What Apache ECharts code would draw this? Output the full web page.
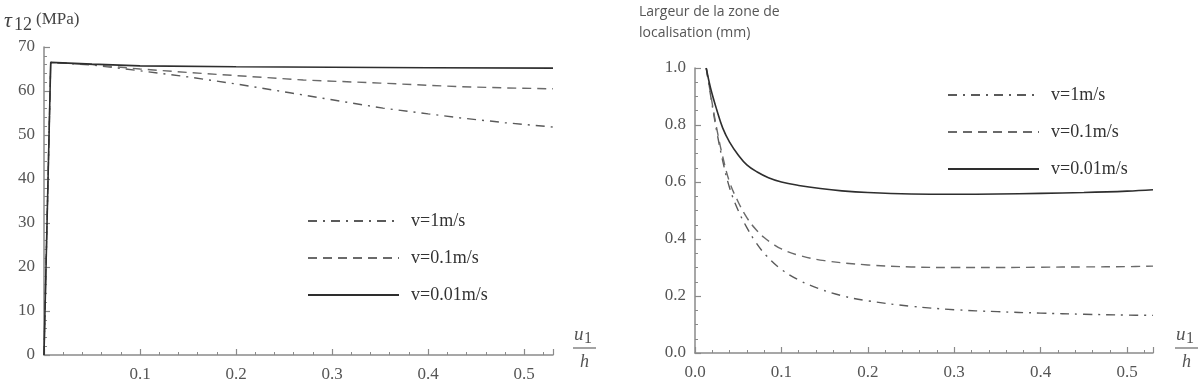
<!DOCTYPE html>
<html>
<head>
<meta charset="utf-8">
<script src="https://cdn.jsdelivr.net/npm/echarts@6/dist/echarts.min.js"></script>
<style>html,body{margin:0;padding:0;background:#fff}#c{width:1200px;height:383px}</style>
</head>
<body>
<div id="c"></div>
<script>
// ---------- data ----------
const seriesNames = ['v=1m/s', 'v=0.1m/s', 'v=0.01m/s'];

// Left chart: tau12 (MPa) vs u1/h
const tauX_1 = [0, 0.007, 0.05, 0.1, 0.15, 0.2, 0.256, 0.3, 0.353, 0.4, 0.433, 0.48, 0.53];
const tauY_1 = [0, 66.5, 65.9, 64.6, 63.2, 61.6, 59.6, 58.0, 56.1, 54.8, 53.9, 52.8, 51.8];
const tauX_01 = [0, 0.007, 0.05, 0.1, 0.15, 0.2, 0.27, 0.35, 0.43, 0.48, 0.53];
const tauY_01 = [0, 66.5, 66.0, 65.0, 64.2, 63.5, 62.5, 61.8, 61.0, 60.7, 60.5];
const tauX_001 = [0, 0.007, 0.05, 0.1, 0.2, 0.3, 0.4, 0.53];
const tauY_001 = [0, 66.5, 66.1, 65.7, 65.5, 65.4, 65.3, 65.2];

// Right chart: localisation zone width (mm) vs u1/h
const widX_1 = [0.013, 0.018, 0.025, 0.032, 0.04, 0.05, 0.06, 0.07, 0.083, 0.1, 0.12, 0.145, 0.17, 0.2, 0.25, 0.3, 0.35, 0.4, 0.45, 0.5, 0.53];
const widY_1 = [1.0, 0.905, 0.78, 0.675, 0.58, 0.50, 0.44, 0.39, 0.34, 0.293, 0.256, 0.224, 0.201, 0.183, 0.164, 0.152, 0.145, 0.14, 0.136, 0.133, 0.132];
const widX_01 = [0.013, 0.018, 0.025, 0.032, 0.04, 0.05, 0.06, 0.07, 0.08, 0.09, 0.1, 0.12, 0.15, 0.2, 0.25, 0.3, 0.35, 0.4, 0.45, 0.5, 0.53];
const widY_01 = [1.0, 0.91, 0.79, 0.69, 0.60, 0.53, 0.475, 0.435, 0.405, 0.383, 0.365, 0.343, 0.324, 0.309, 0.302, 0.300, 0.300, 0.301, 0.302, 0.303, 0.305];
const widX_001 = [0.013, 0.018, 0.025, 0.032, 0.04, 0.05, 0.06, 0.072, 0.085, 0.1, 0.12, 0.145, 0.17, 0.2, 0.25, 0.3, 0.35, 0.4, 0.45, 0.5, 0.53];
const widY_001 = [1.0, 0.93, 0.855, 0.79, 0.74, 0.695, 0.66, 0.635, 0.615, 0.60, 0.588, 0.577, 0.569, 0.563, 0.558, 0.557, 0.558, 0.56, 0.563, 0.568, 0.573];

// ---------- helpers ----------
const zip = (xs, ys) => xs.map((x, i) => [x, ys[i]]);
const serif = 'Liberation Serif';
const axisGray = '#8a8a8a';
const labelGray = '#555';

const styles = [
  { color: '#5a5a5a', width: 1.4, type: [9, 6, 2, 6] },
  { color: '#6a6a6a', width: 1.4, type: [9, 6] },
  { color: '#2e2e2e', width: 1.6, type: 'solid' }
];

function mkSeries(name, xi, yi, data, idx, smooth) {
  return {
    name: name, type: 'line', xAxisIndex: xi, yAxisIndex: yi,
    data: data, showSymbol: false, symbol: 'none',
    smooth: smooth,
    lineStyle: { color: styles[idx].color, width: styles[idx].width, type: styles[idx].type },
    itemStyle: { color: styles[idx].color },
    emphasis: { disabled: true },
    animation: false
  };
}

function xAxisCfg(gi, showZero) {
  return {
    type: 'value', gridIndex: gi, min: 0, max: 0.53, interval: 0.1,
    axisLine: { show: true, onZero: false, lineStyle: { color: axisGray, width: 1.5 } },
    axisTick: { show: true, inside: true, length: 6, lineStyle: { color: axisGray, width: 1.2 } },
    minorTick: { show: true, splitNumber: 5, length: 3, lineStyle: { color: axisGray, width: 1 } },
    splitLine: { show: false },
    axisLabel: {
      margin: 11, color: labelGray, fontFamily: serif, fontSize: 17,
      showMaxLabel: false,
      formatter: v => (!showZero && v === 0) ? '' : v.toFixed(1)
    }
  };
}
function yAxisCfg(gi, max, interval, minorSplit, fmt) {
  return {
    type: 'value', gridIndex: gi, min: 0, max: max, interval: interval,
    axisLine: { show: true, onZero: false, lineStyle: { color: axisGray, width: 1.5 } },
    axisTick: { show: true, inside: true, length: 6, lineStyle: { color: axisGray, width: 1.2 } },
    minorTick: { show: true, splitNumber: minorSplit, length: 3, lineStyle: { color: axisGray, width: 1 } },
    splitLine: { show: false },
    axisLabel: { margin: 9, color: labelGray, fontFamily: serif, fontSize: 17, formatter: fmt }
  };
}

function txt(left, top, text, size, italic, fill, family) {
  return { type: 'text', left: left, top: top, style: {
    text: text, fontSize: size, fontStyle: italic ? 'italic' : 'normal',
    fontFamily: family || serif, fill: fill || '#555' } };
}

function fracLabel(x, y) {
  return [
    txt(x + 1, y - 1, 'u', 19, true),
    txt(x + 11, y + 5, '1', 16, false),
    { type: 'line', shape: { x1: x, y1: y + 22, x2: x + 23, y2: y + 22 }, style: { stroke: '#666', lineWidth: 1.2 } },
    txt(x + 7, y + 27, 'h', 18, true)
  ];
}

const legendText = { fontFamily: serif, fontSize: 18, color: '#333', padding: [0, 0, 0, 7] };
const legendBase = {
  data: seriesNames, orient: 'vertical', padding: 0, itemWidth: 91, itemHeight: 18, itemGap: 19,
  textStyle: legendText, selectedMode: false, itemStyle: { opacity: 0 }
};

const option = {
  backgroundColor: '#fff',
  animation: false,
  grid: [
    { left: 44, right: 647, top: 47, bottom: 28 },
    { left: 695, right: 47, top: 68, bottom: 30 }
  ],
  xAxis: [xAxisCfg(0, false), xAxisCfg(1, true)],
  yAxis: [
    yAxisCfg(0, 70, 10, 5, v => String(v)),
    yAxisCfg(1, 1.0, 0.2, 4, v => v.toFixed(1))
  ],
  legend: [
    Object.assign({}, legendBase, { left: 307, top: 212 }),
    Object.assign({}, legendBase, { left: 947, top: 86 })
  ],
  series: [
    mkSeries(seriesNames[0], 0, 0, zip(tauX_1, tauY_1), 0, false),
    mkSeries(seriesNames[1], 0, 0, zip(tauX_01, tauY_01), 1, false),
    mkSeries(seriesNames[2], 0, 0, zip(tauX_001, tauY_001), 2, false),
    mkSeries(seriesNames[0], 1, 1, zip(widX_1, widY_1), 0, 0.4),
    mkSeries(seriesNames[1], 1, 1, zip(widX_01, widY_01), 1, 0.4),
    mkSeries(seriesNames[2], 1, 1, zip(widX_001, widY_001), 2, 0.4)
  ],
  graphic: [
    txt(4, 10, 'τ', 22, true, '#444'),
    txt(14, 16, '12', 18, false, '#444'),
    txt(36, 11, '(MPa)', 17, false, '#444'),
    { type: 'text', left: 639, top: 2, style: { text: 'Largeur de la zone de\nlocalisation (mm)', fontSize: 14, fontFamily: 'Open Sans', fill: '#555', lineHeight: 21 } }
  ].concat(fracLabel(573, 326), fracLabel(1175, 326))
};

const chart = echarts.init(document.getElementById('c'), null, { renderer: 'canvas' });
chart.setOption(option);
</script>
</body>
</html>
